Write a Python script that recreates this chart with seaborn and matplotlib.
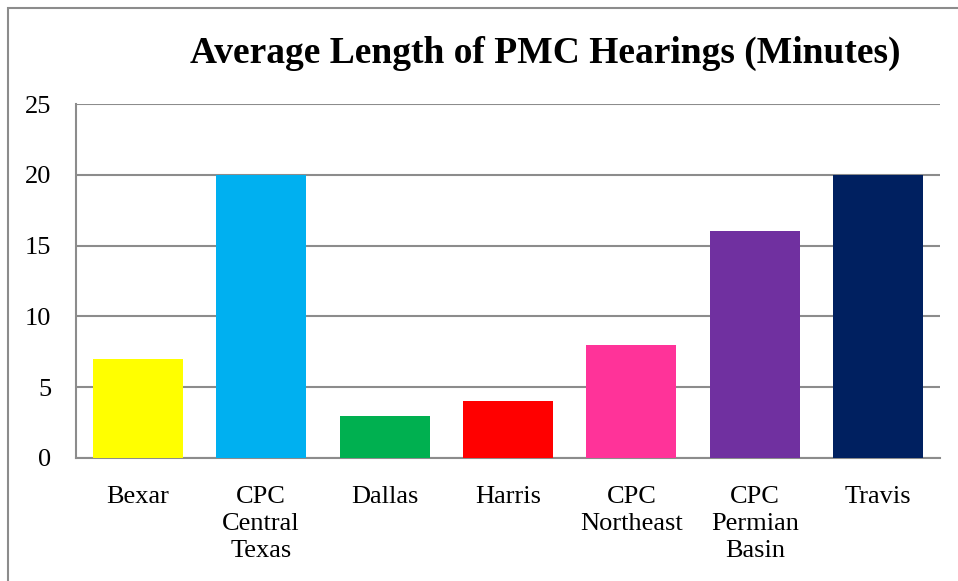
import pandas as pd
import matplotlib.pyplot as plt
import seaborn as sns
from matplotlib.patches import Rectangle

courts = ["Bexar", "CPC\nCentral\nTexas", "Dallas", "Harris", "CPC\nNortheast", "CPC\nPermian\nBasin", "Travis"]
minutes = [7, 20, 3, 4, 8, 16, 20]
colors = ["#FFFF00", "#00B0F0", "#00B050", "#FF0000", "#FF3399", "#7030A0", "#002060"]

df = pd.DataFrame({"Court": courts, "Minutes": minutes})

sns.set_style("white")
plt.rcParams["font.family"] = ["Liberation Serif", "DejaVu Serif"]
plt.rcParams["text.color"] = "black"

fig = plt.figure(figsize=(9.58, 5.81), dpi=100)
ax = fig.add_axes([76 / 958, 123 / 581, 864 / 958, 354 / 581])

sns.barplot(data=df, x="Court", y="Minutes", hue="Court", palette=colors,
            legend=False, width=0.73, saturation=1, linewidth=0, ax=ax, zorder=3)

ax.set_ylim(0, 25)
ax.set_yticks([0, 5, 10, 15, 20, 25])
ax.yaxis.grid(True, color="#8c8c8c", linewidth=1.5, zorder=0)
ax.set_axisbelow(True)
ax.set_xlabel("")
ax.set_ylabel("")
for side in ["top", "right"]:
    ax.spines[side].set_visible(False)
for side in ["left", "bottom"]:
    ax.spines[side].set_color("#8c8c8c")
    ax.spines[side].set_linewidth(1.5)
ax.tick_params(axis="both", length=0, labelsize=19, colors="black")
ax.tick_params(axis="y", pad=18)
ax.tick_params(axis="x", pad=20)
for lbl in ax.get_xticklabels():
    lbl.set_linespacing(1.3)

fig.text(545 / 958, 1 - 53 / 581, "Average Length of PMC Hearings (Minutes)",
         ha="center", va="center", fontsize=27, fontweight="bold", color="black")

# outer chart border (only top and left visible)
fig.patches.append(Rectangle((8 / 958, -0.1), 1.2, 1 - 8 / 581 + 0.1,
                             transform=fig.transFigure, fill=False,
                             edgecolor="#8c8c8c", linewidth=1.5))

fig.savefig("out.png", dpi=100)
